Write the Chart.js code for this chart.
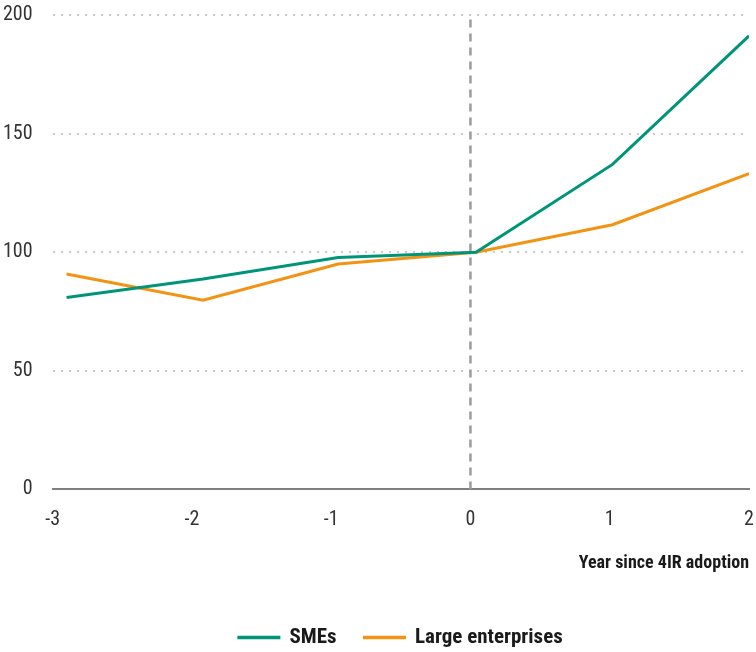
<!DOCTYPE html>
<html>
<head>
<meta charset="utf-8">
<script src="https://cdn.jsdelivr.net/npm/chart.js@4.4.1/dist/chart.umd.min.js"></script>
<style>
  html, body { margin: 0; padding: 0; background: #ffffff; }
  #wrap { width: 756px; height: 652px; }
</style>
</head>
<body>
<div id="wrap"><canvas id="chart" width="756" height="652"></canvas></div>
<script>
// Index (year 0 = 100) around the year of 4IR adoption
const yearPositions = [-2.9, -1.92, -0.95, 0.04, 1.02, 2];
const smeValues = [80.9, 88.7, 97.8, 100, 137.0, 191.2];
const largeValues = [90.8, 79.8, 95.0, 100, 111.6, 133.1];
const xTickLabels = ['-3', '-2', '-1', '0', '1', '2'];
const yTickLabels = ['0', '50', '100', '150', '200'];
const adoptionYear = 0;
const seriesNames = ['SMEs', 'Large enterprises'];
const xTitle = 'Year since 4IR adoption';

const GREEN = '#00957a';
const ORANGE = '#f39314';
const FONT = '"Roboto Condensed", "Roboto", "Liberation Sans", sans-serif';
const CLEAR = 'rgba(0,0,0,0)';

const toPoints = (vals) => vals.map((v, i) => ({ x: yearPositions[i], y: v }));

new Chart(document.getElementById('chart'), {
  type: 'line',
  data: {
    datasets: [
      {
        label: seriesNames[0],
        data: toPoints(smeValues),
        borderColor: GREEN,
        backgroundColor: GREEN,
        borderWidth: 3,
        pointRadius: 0,
        tension: 0,
        order: 1
      },
      {
        label: seriesNames[1],
        data: toPoints(largeValues),
        borderColor: ORANGE,
        backgroundColor: ORANGE,
        borderWidth: 3,
        pointRadius: 0,
        tension: 0,
        order: 2
      },
      {
        label: 'adoption',
        data: [{ x: adoptionYear, y: 0 }, { x: adoptionYear, y: 200 }],
        borderColor: '#9b9b9b',
        borderDash: [8, 6],
        borderWidth: 2.5,
        pointRadius: 0,
        order: 3
      }
    ]
  },
  options: {
    responsive: false,
    animation: false,
    layout: { padding: { top: 15, right: 7, left: 3, bottom: -6 } },
    plugins: {
      tooltip: { enabled: false },
      legend: {
        position: 'bottom',
        fullSize: false,
        labels: {
          filter: (item) => item.datasetIndex < 2,
          boxWidth: 40,
          boxHeight: 0.5,
          padding: 28,
          color: '#1a1a1a',
          font: { family: FONT, size: 21, weight: 'bold' }
        }
      }
    },
    scales: {
      x: {
        type: 'linear',
        min: -3,
        max: 2,
        grid: { display: true, drawOnChartArea: false, drawTicks: true, tickLength: 19, tickColor: CLEAR },
        border: { display: true, color: '#808080', width: 2 },
        ticks: {
          stepSize: 1,
          padding: 0,
          color: '#333333',
          font: { family: FONT, size: 20 },
          callback: (v) => xTickLabels[v + 3]
        },
        title: {
          display: true,
          text: xTitle,
          align: 'end',
          color: '#1a1a1a',
          font: { family: FONT, size: 18, weight: 'bold' },
          padding: { top: 20, bottom: 25 }
        }
      },
      y: {
        min: 0,
        max: 200,
        grid: {
          drawTicks: true,
          tickLength: 20,
          tickColor: CLEAR,
          lineWidth: 2,
          color: (ctx) => ctx.tick && ctx.tick.value === 0 ? CLEAR : '#c9c9c9'
        },
        border: { display: false, dash: [2, 6] },
        ticks: {
          stepSize: 50,
          padding: 0,
          color: '#333333',
          font: { family: FONT, size: 20 },
          callback: (v) => yTickLabels[v / 50]
        }
      }
    }
  }
});
</script>
</body>
</html>
